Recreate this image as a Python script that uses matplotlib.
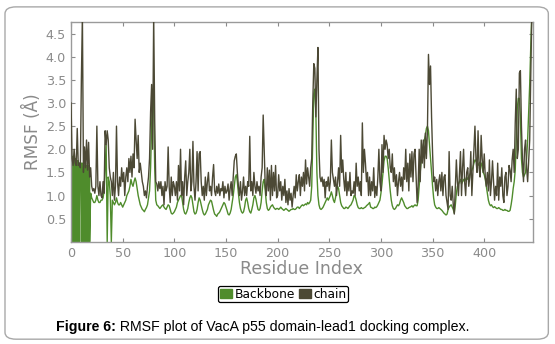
import matplotlib
matplotlib.use("Agg")
import matplotlib.pyplot as plt
from matplotlib.patches import Patch, FancyBboxPatch
import numpy as np

# RMSF per residue (Å)
chain = [
    3.0, 1.8, 1.65, 2.0, 1.7, 1.65, 2.45, 1.65, 1.7, 1.6,
    3.5, 4.9, 1.5, 2.05, 1.6, 2.2, 1.55, 2.15, 1.4, 1.6,
    1.2, 1.1, 1.15, 1.05, 1.2, 2.5, 1.2, 1.0, 1.3, 1.0,
    0.95, 1.3, 1.05, 2.4, 2.1, 2.4, 2.2, 1.6, 1.4, 1.3,
    1.0, 1.5, 0.9, 1.2, 2.5, 1.3, 1.0, 1.4, 1.2, 1.6,
    1.3, 1.5, 1.0, 1.4, 1.6, 1.3, 1.8, 1.5, 1.85, 1.4,
    1.9, 1.6, 2.65, 2.2, 1.8, 2.3, 1.5, 1.7, 1.5, 1.3,
    1.2, 1.0, 1.1, 0.95, 1.2, 1.4, 1.8, 2.8, 3.4, 2.0,
    4.9, 2.6, 1.3, 1.25, 1.1, 1.3, 1.15, 1.3, 1.0, 1.2,
    0.8, 1.3, 1.1, 1.2, 2.05, 1.2, 0.85, 1.4, 1.0, 1.3,
    1.2, 1.0, 1.3, 0.9, 1.65, 1.1, 2.0, 1.0, 1.3, 0.8,
    1.4, 1.75, 1.0, 1.3, 1.5, 2.0, 1.1, 1.3, 2.17, 1.2,
    0.9, 1.3, 1.95, 1.1, 1.9, 1.95, 1.3, 1.0, 1.2, 0.9,
    1.4, 1.0, 1.3, 1.5, 1.1, 1.2, 1.0, 1.4, 1.67, 1.1,
    1.0, 1.2, 1.05, 1.25, 1.0, 1.15, 1.1, 1.3, 0.95, 1.2,
    1.05, 1.1, 1.25, 0.9, 1.15, 1.3, 1.0, 1.4, 1.75, 1.85,
    1.9, 1.5, 1.2, 1.0, 1.3, 0.9, 1.1, 1.4, 1.0, 1.2,
    1.0, 1.3, 1.2, 2.28, 1.1, 1.3, 1.0, 1.5, 1.2, 1.05,
    1.3, 1.1, 1.2, 1.0, 1.4, 1.6, 2.74, 2.0, 1.2, 1.0,
    1.6, 1.1, 1.55, 0.9, 1.65, 1.0, 1.5, 1.1, 1.65, 0.95,
    1.0, 1.45, 1.1, 1.3, 0.9, 1.2, 1.0, 1.35, 0.85, 1.1,
    0.8, 1.15, 0.9, 1.05, 0.75, 1.0, 1.2, 0.95, 1.45, 1.1,
    1.3, 1.45, 1.0, 1.4, 1.2, 1.5, 1.1, 1.77, 1.25, 1.6,
    1.4, 1.2, 1.6, 1.8, 3.0, 3.85, 3.75, 2.7, 3.5, 4.2,
    2.0, 1.4, 1.3, 1.4, 1.2, 1.35, 0.95, 1.3, 1.2, 1.4,
    1.1, 1.3, 2.2, 1.5, 1.35, 1.2, 1.4, 1.0, 1.3, 1.6,
    1.2, 2.3, 1.5, 1.77, 1.35, 1.1, 1.5, 1.0, 1.3, 1.1,
    1.5, 1.0, 1.1, 1.05, 1.3, 1.0, 1.7, 1.2, 1.4, 1.1,
    1.3, 1.0, 2.57, 1.5, 2.0, 1.7, 1.3, 1.5, 1.0, 1.4,
    1.0, 1.3, 1.1, 1.6, 0.96, 1.2, 1.0, 1.4, 2.0, 1.3,
    1.1, 2.1, 1.5, 2.3, 2.0, 2.2, 2.1, 1.8, 2.0, 1.6,
    1.5, 1.9, 1.3, 1.6, 1.2, 1.45, 1.0, 1.3, 1.5, 1.2,
    1.4, 1.1, 1.6, 1.35, 2.0, 1.3, 1.7, 1.1, 1.9, 1.4,
    1.95, 1.3, 1.9, 2.0, 1.4, 0.85, 1.2, 2.0, 1.3, 2.2,
    1.7, 2.2, 1.6, 2.35, 1.8, 2.4, 4.05, 3.4, 3.8, 2.7,
    1.9, 1.3, 1.4, 1.1, 1.35, 1.0, 1.3, 1.45, 1.1, 1.5,
    1.0, 1.4, 1.45, 1.0, 0.85, 0.7, 1.95, 1.0, 0.9, 1.2,
    0.8, 0.6, 1.2, 1.77, 1.3, 1.0, 1.5, 1.95, 1.0, 1.6,
    2.0, 1.3, 1.0, 1.5, 1.6, 1.2, 1.4, 1.95, 1.0, 1.5,
    2.0, 2.5, 1.77, 1.5, 2.4, 1.6, 1.4, 2.3, 1.8, 1.5,
    1.9, 1.4, 1.2, 1.5, 1.1, 1.77, 1.0, 1.3, 1.75, 1.3,
    0.9, 1.2, 1.0, 1.7, 0.9, 1.4, 1.2, 1.6, 1.0, 0.85,
    1.4, 1.5, 1.0, 1.2, 1.65, 1.55, 1.3, 1.77, 2.0, 1.5,
    2.57, 3.3, 1.8, 2.0, 3.65, 3.7, 2.5, 1.77, 1.3, 2.0,
    2.2, 1.6, 1.3, 1.77, 2.2, 3.5, 4.9,
]

# backbone, residues 0-18: several backbone entries per residue (values jump to 0)
backbone_head_res = [0, 0, 1, 1, 2, 2, 3, 3, 4, 4, 5, 5, 6, 6, 7, 7, 8, 8, 9,
                     10, 10, 11, 11, 12, 12, 13, 13, 14, 14, 15, 15, 16, 16,
                     17, 17, 18, 18]
backbone_head = [0.0, 1.85, 0.0, 1.85, 1.8, 0.0, 1.85, 0.0, 1.8, 0.0, 1.8, 0.0,
                 1.75, 0.0, 1.75, 0.0, 1.7, 0.0, 1.7, 1.7, 0.0, 1.7, 0.0, 1.7,
                 0.0, 1.65, 0.0, 1.7, 0.0, 1.65, 0.0, 1.65, 0.0, 1.65, 0.0,
                 1.6, 0.0]
# backbone, residues 19-446
backbone_tail = [
    1.05,
    0.95, 0.9, 0.85, 0.85, 0.9, 1.0, 0.9, 0.85, 0.85, 0.9,
    0.9, 0.95, 1.1, 1.6, 2.1, 0.0, 1.4, 1.3, 1.0, 0.0,
    0.9, 0.85, 0.8, 0.85, 0.95, 0.85, 0.8, 0.8, 0.85, 0.8,
    0.75, 0.8, 0.85, 0.9, 1.0, 1.05, 1.1, 1.2, 1.35, 1.25,
    1.2, 1.3, 1.38, 1.3, 1.15, 1.0, 0.9, 0.8, 0.75, 0.7,
    0.68, 0.65, 0.7, 0.74, 0.8, 0.95, 1.1, 1.6, 2.5, 3.3,
    3.0, 1.6, 0.9, 0.8, 0.78, 0.75, 0.72, 0.75, 0.78, 0.8,
    0.75, 0.72, 0.7, 0.75, 0.8, 0.78, 0.7, 0.62, 0.6, 0.62,
    0.65, 0.7, 0.75, 0.85, 0.9, 0.95, 1.0, 1.0, 0.85, 0.7,
    0.62, 0.6, 0.65, 0.72, 0.85, 0.95, 1.0, 0.95, 0.8, 0.65,
    0.6, 0.62, 0.7, 0.85, 0.95, 0.9, 0.8, 0.7, 0.62, 0.58,
    0.6, 0.65, 0.7, 0.8, 0.85, 0.9, 0.88, 0.78, 0.68, 0.6,
    0.58, 0.55, 0.6, 0.62, 0.65, 0.7, 0.75, 0.8, 0.85, 0.82,
    0.75, 0.68, 0.6, 0.58, 0.62, 0.7, 0.85, 1.0, 1.2, 1.4,
    1.45, 1.3, 1.05, 0.85, 0.72, 0.65, 0.62, 0.65, 0.75, 0.9,
    0.95, 0.85, 0.72, 0.65, 0.62, 0.7, 0.8, 0.95, 1.0, 0.92,
    0.8, 0.7, 0.68, 0.72, 0.85, 1.1, 1.3, 1.35, 1.1, 0.85,
    0.72, 0.68, 0.7, 0.75, 0.78, 0.8, 0.75, 0.72, 0.7, 0.72,
    0.72, 0.7, 0.72, 0.75, 0.72, 0.7, 0.68, 0.7, 0.72, 0.7,
    0.68, 0.66, 0.68, 0.7, 0.7, 0.72, 0.7, 0.7, 0.72, 0.75,
    0.75, 0.72, 0.75, 0.78, 0.8, 0.78, 0.8, 0.82, 0.8, 0.85,
    0.82, 0.85, 0.9, 1.2, 2.2, 3.2, 3.3, 2.8, 1.5, 1.0,
    0.8, 0.72, 0.7, 0.72, 0.75, 0.8, 0.85, 0.9, 0.95, 0.9,
    0.95, 1.0, 1.08, 1.0, 0.9, 0.85, 0.95, 1.1, 1.2, 1.15,
    1.0, 0.85, 0.78, 0.75, 0.72, 0.72, 0.75, 0.74, 0.72, 0.75,
    0.78, 0.8, 0.85, 0.9, 1.0, 0.98, 0.9, 0.8, 0.74, 0.72,
    0.72, 0.74, 0.72, 0.72, 0.74, 0.75, 0.78, 0.8, 0.82, 0.85,
    0.75, 0.74, 0.72, 0.72, 0.75, 0.74, 0.76, 0.8, 0.85, 0.9,
    1.05, 1.25, 1.5, 1.75, 1.85, 1.85, 1.8, 1.6, 1.35, 1.1,
    0.9, 0.78, 0.72, 0.7, 0.72, 0.76, 0.8, 0.78, 0.82, 0.9,
    0.95, 0.9, 0.85, 0.78, 0.75, 0.72, 0.72, 0.74, 0.75, 0.76,
    0.78, 0.75, 0.78, 0.8, 0.78, 0.78, 0.9, 1.2, 1.5, 1.75,
    1.9, 2.1, 2.2, 2.3, 2.45, 2.5, 2.4, 2.1, 1.8, 1.5,
    1.2, 0.95, 0.8, 0.75, 0.72, 0.72, 0.74, 0.72, 0.7, 0.68,
    0.65, 0.62, 0.6, 0.58, 0.6, 0.7, 0.75, 0.78, 0.8, 0.75,
    0.7, 0.62, 0.8, 1.05, 1.2, 1.25, 1.3, 1.35, 1.25, 1.3,
    1.35, 1.3, 1.35, 1.4, 1.35, 1.4, 1.45, 1.5, 1.55, 1.6,
    1.7, 1.77, 1.75, 1.7, 1.65, 1.7, 1.72, 1.7, 1.6, 1.5,
    1.45, 1.35, 1.2, 1.05, 0.9, 0.82, 0.78, 0.8, 0.76, 0.74,
    0.76, 0.74, 0.72, 0.72, 0.74, 0.72, 0.7, 0.7, 0.68, 0.68,
    0.7, 0.68, 0.68, 0.66, 0.66, 0.68, 0.8, 0.95, 1.15, 1.3,
    1.55, 2.2, 2.9, 3.1, 3.1, 2.7, 1.8, 1.5, 1.4, 1.45,
    1.5, 1.8, 2.2, 2.8, 3.4, 4.2, 4.9,
]

x_ticks = [0, 50, 100, 150, 200, 250, 300, 350, 400]
y_ticks = [0.5, 1.0, 1.5, 2.0, 2.5, 3.0, 3.5, 4.0, 4.5]
series_names = ["Backbone", "chain"]
series_colors = ["#4f8c2c", "#4c4935"]
caption_bold = "Figure 6:"
caption_rest = " RMSF plot of VacA p55 domain-lead1 docking complex."

chain_res = np.arange(len(chain))
tail_start = backbone_head_res[-1] + 1
backbone_res = np.concatenate([backbone_head_res,
                               np.arange(tail_start, tail_start + len(backbone_tail))])
backbone_all = np.concatenate([backbone_head, backbone_tail])

gray = "#8a8a8a"
fig = plt.figure(figsize=(5.55, 3.44), dpi=100)

# outer rounded frame
frame = FancyBboxPatch((0.009, 0.014), 0.979, 0.966,
                       boxstyle="round,pad=0,rounding_size=0.02",
                       transform=fig.transFigure, facecolor="none",
                       edgecolor="#a8a8a8", linewidth=1.0, zorder=-1)
fig.patches.append(frame)

ax = fig.add_axes([0.128, 0.297, 0.832, 0.639])
ax.plot(backbone_res, backbone_all, color=series_colors[0], linewidth=1.0, zorder=2)
ax.plot(chain_res, chain, color=series_colors[1], linewidth=1.0, zorder=3)

ax.set_xlim(0, 447)
ax.set_ylim(0, 4.75)
ax.set_xticks(x_ticks)
ax.set_yticks(y_ticks)
ax.tick_params(axis="both", direction="in", top=True, right=True,
               colors=gray, labelcolor=gray, labelsize=9.2, length=3, width=0.8)
for s in ax.spines.values():
    s.set_color("#9a9a9a")
    s.set_linewidth(1.0)
ax.set_xlabel("Residue Index", color=gray, fontsize=12.5, labelpad=0)
ax.set_ylabel("RMSF (Å)", color=gray, fontsize=12.2, labelpad=3)

handles = [Patch(facecolor=c, edgecolor=c) for c in series_colors]
leg = fig.legend(handles, series_names, loc="center", bbox_to_anchor=(0.51, 0.145),
                 ncol=2, fontsize=8.8, handlelength=1.0, handleheight=0.7,
                 handletextpad=0.2, columnspacing=0.3, borderpad=0.15,
                 borderaxespad=0, fancybox=True, framealpha=1)
leg.get_frame().set_edgecolor("black")
leg.get_frame().set_linewidth(0.9)

# caption with bold prefix, centred as a whole
cap_size = 10.2
cap_y = 0.038
t1 = fig.text(0, cap_y, caption_bold, fontsize=cap_size, fontweight="bold",
              family="Liberation Sans", ha="left", va="baseline")
t2 = fig.text(0, cap_y, caption_rest, fontsize=cap_size, family="Liberation Sans",
              ha="left", va="baseline")
fig.canvas.draw()
W = fig.bbox.width
w1 = t1.get_window_extent().width / W
w2 = t2.get_window_extent().width / W
x0 = 0.473 - (w1 + w2) / 2
t1.set_x(x0)
t2.set_x(x0 + w1)

fig.savefig("out.png", dpi=100)
